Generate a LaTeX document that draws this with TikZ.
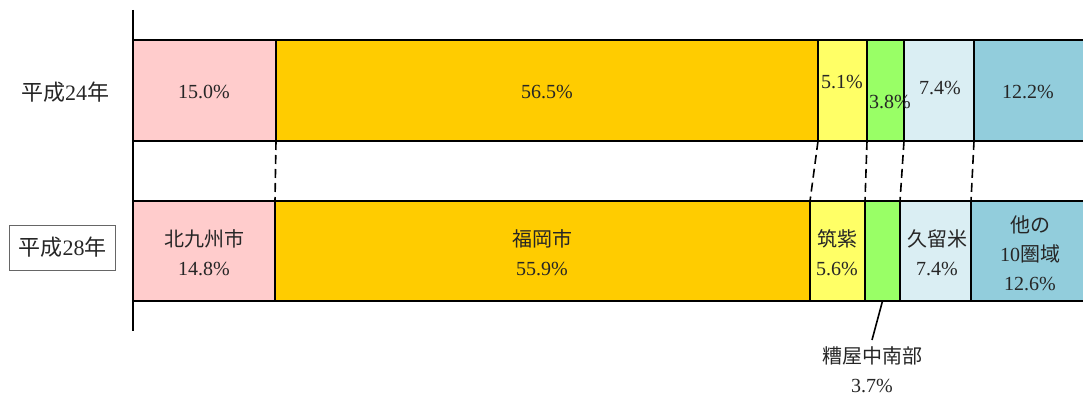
\documentclass[tikz,border=0pt]{standalone}
\usepackage{fontspec}
\setmainfont{Liberation Serif}
\newfontfamily\jp{Noto Sans CJK JP}
\definecolor{cpink}{HTML}{FFCCCC}
\definecolor{corange}{HTML}{FFCC00}
\definecolor{cyellow}{HTML}{FFFF66}
\definecolor{cgreen}{HTML}{99FF66}
\definecolor{clblue}{HTML}{DAEEF3}
\definecolor{cblue}{HTML}{92CDDC}
\definecolor{ctext}{HTML}{262626}
\begin{document}
\begin{tikzpicture}[x=1pt,y=-1pt,
  seg/.style={draw=black,line width=1.8pt,inner sep=0pt,outer sep=0pt,anchor=north west},
  lbl/.style={inner sep=0pt,text=ctext,font=\fontsize{20}{29}\selectfont,align=center},
  year/.style={inner sep=0pt,text=ctext,font=\fontsize{22}{25}\selectfont},
  conn/.style={line width=1.6pt,dash pattern=on 9pt off 5pt},
]
\useasboundingbox (0,0) rectangle (1083,396);
% axis
\coordinate (axt) at (133,10);
\coordinate (axb) at (133,331);
\draw[line width=1.8pt] (axt) -- (axb);
% top bar
\node[seg,fill=cpink,minimum width=143pt,minimum height=101pt] (t1) at (133,40) {};
\node[seg,fill=corange,minimum width=542pt,minimum height=101pt] (t2) at (276,40) {};
\node[seg,fill=cyellow,minimum width=49pt,minimum height=101pt] (t3) at (818,40) {};
\node[seg,fill=cgreen,minimum width=37pt,minimum height=101pt] (t4) at (867,40) {};
\node[seg,fill=clblue,minimum width=70pt,minimum height=101pt] (t5) at (904,40) {};
\node[seg,fill=cblue,minimum width=112pt,minimum height=101pt] (t6) at (974,40) {};
% bottom bar
\node[seg,fill=cpink,minimum width=142pt,minimum height=100pt] (b1) at (133,201) {};
\node[seg,fill=corange,minimum width=535pt,minimum height=100pt] (b2) at (275,201) {};
\node[seg,fill=cyellow,minimum width=55pt,minimum height=100pt] (b3) at (810,201) {};
\node[seg,fill=cgreen,minimum width=35pt,minimum height=100pt] (b4) at (865,201) {};
\node[seg,fill=clblue,minimum width=71pt,minimum height=100pt] (b5) at (900,201) {};
\node[seg,fill=cblue,minimum width=115pt,minimum height=100pt] (b6) at (971,201) {};
% dashed connectors
\draw[conn] (t1.south east) -- (b1.north east);
\draw[conn] (t2.south east) -- (b2.north east);
\draw[conn] (t3.south east) -- (b3.north east);
\draw[conn] (t4.south east) -- (b4.north east);
\draw[conn] (t5.south east) -- (b5.north east);
% top labels
\node[lbl] (lt1) at (204,92) {15.0\%};
\node[lbl] (lt2) at (547,92) {56.5\%};
\node[lbl] (lt3) at (842,82) {5.1\%};
\node[lbl] (lt4) at (890,102) {3.8\%};
\node[lbl] (lt5) at (940,88) {7.4\%};
\node[lbl] (lt6) at (1028,92) {12.2\%};
% bottom labels
\node[lbl] (lb1) at (204,253) {{\jp 北九州市}\\14.8\%};
\node[lbl] (lb2) at (542,253) {{\jp 福岡市}\\55.9\%};
\node[lbl] (lb3) at (837,253) {{\jp 筑紫}\\5.6\%};
\node[lbl] (lb5) at (937,253) {{\jp 久留米}\\7.4\%};
\node[lbl] (lb6) at (1030,253) {{\jp 他の}\\10{\jp 圏域}\\12.6\%};
% callout
\coordinate (ce) at (872,340);
\draw[line width=1.6pt] (b4.south) -- (ce);
\node[lbl,anchor=north] (lb4) at (872,346) {{\jp 糟屋中南部}\\3.7\%};
% year labels
\node[year] (y24) at (65,92) {{\jp 平成}24{\jp 年}};
\node[year,draw=black!60,line width=0.7pt,minimum width=106pt,minimum height=45pt] (y28) at (62.5,247.5) {{\jp 平成}28{\jp 年}};
\end{tikzpicture}
\end{document}
